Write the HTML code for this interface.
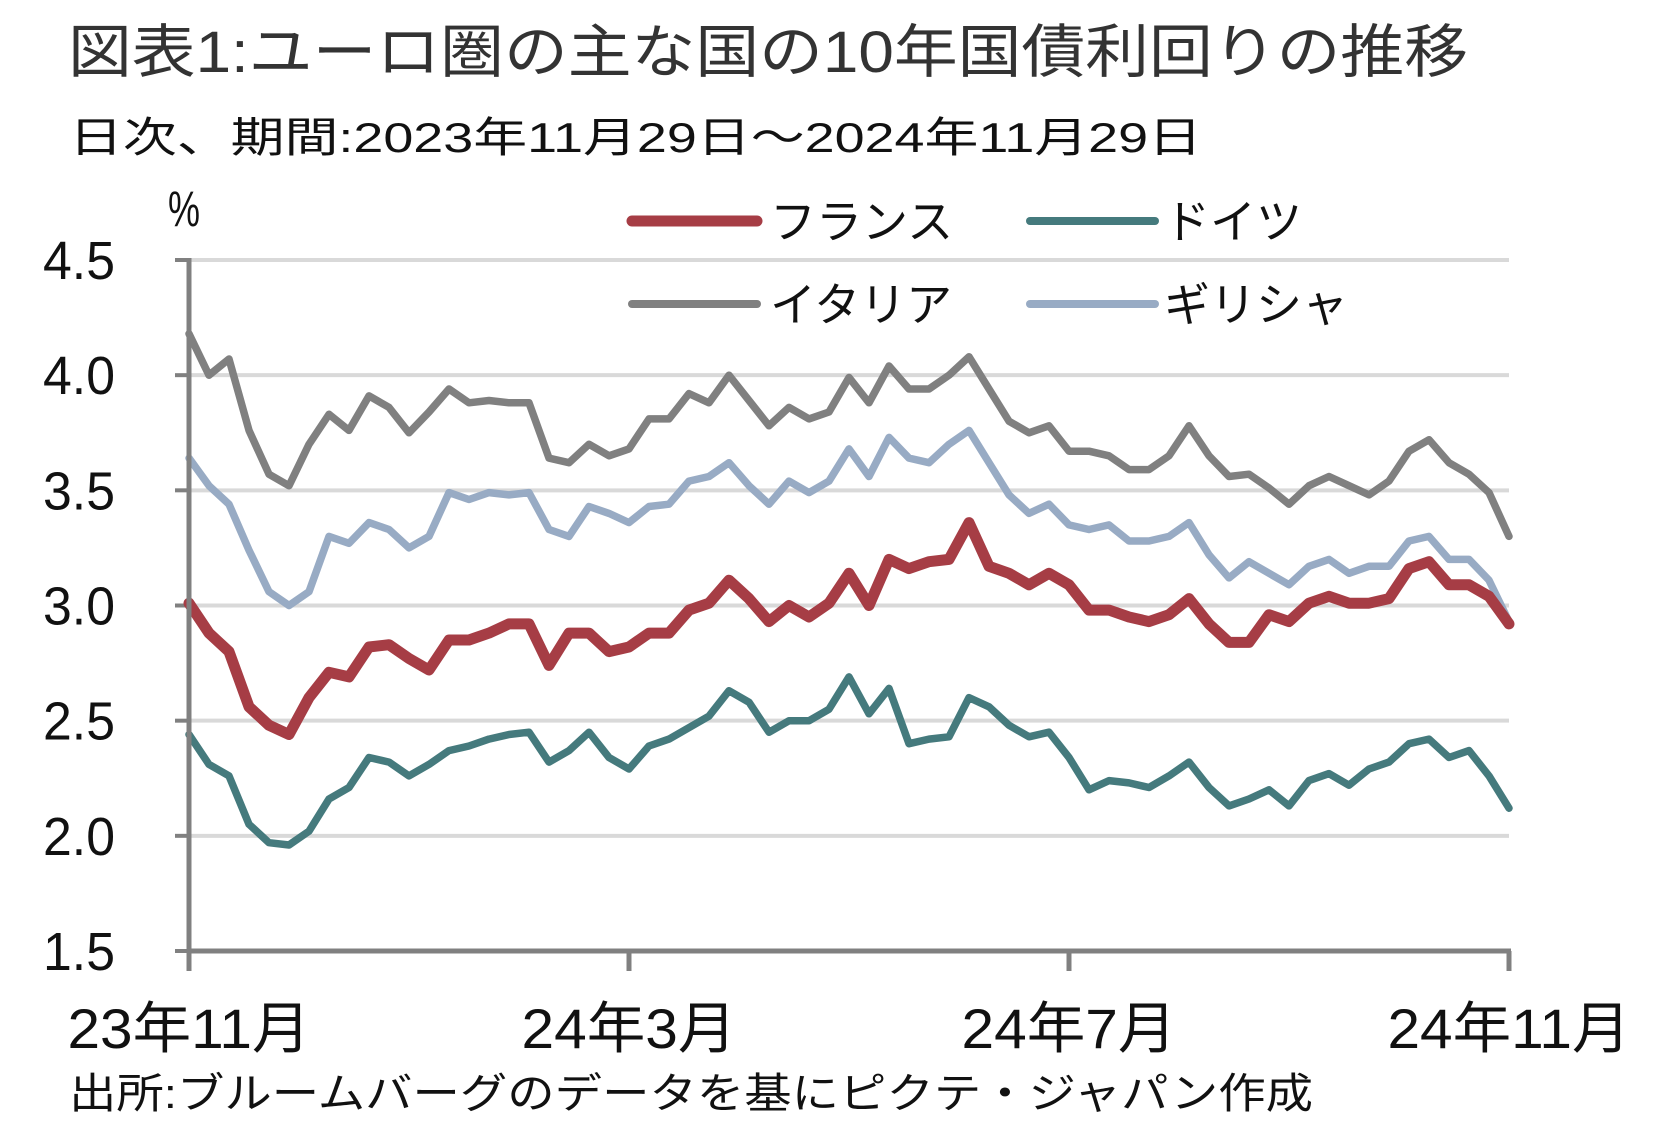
<!DOCTYPE html>
<html><head><meta charset="utf-8">
<style>
html,body{margin:0;padding:0;background:#fff;}
svg{display:block;font-family:"Liberation Sans","Noto Sans CJK JP",sans-serif;}
</style></head>
<body>
<svg id="chart" width="1671" height="1139" viewBox="0 0 1671 1139" xmlns="http://www.w3.org/2000/svg">
<text x="68" y="72" font-size="58" fill="#333" textLength="1400" lengthAdjust="spacingAndGlyphs">図表1:ユーロ圏の主な国の10年国債利回りの推移</text>
<text x="69" y="152" font-size="42" fill="#111" textLength="1133" lengthAdjust="spacingAndGlyphs">日次、期間:2023年11月29日～2024年11月29日</text>
<text x="168" y="226" font-size="50" fill="#111" textLength="32" lengthAdjust="spacingAndGlyphs">%</text>
<g id="grid"></g>
<g id="ylabels"></g>
<g id="series"></g>
<g id="axes"></g>
<g id="xlabels"></g>
<g>
  <g>
    <line x1="632" y1="221" x2="757" y2="221" stroke="#a63d45" stroke-width="11" stroke-linecap="round"/>
    <text x="770" y="238" font-size="46" fill="#111">フランス</text>
  </g>
  <g>
    <line x1="1030" y1="221" x2="1155" y2="221" stroke="#457a7d" stroke-width="8" stroke-linecap="round"/>
    <text x="1164" y="238" font-size="46" fill="#111">ドイツ</text>
  </g>
  <g>
    <line x1="632" y1="304" x2="757" y2="304" stroke="#808080" stroke-width="8" stroke-linecap="round"/>
    <text x="770" y="321" font-size="46" fill="#111">イタリア</text>
  </g>
  <g>
    <line x1="1030" y1="304" x2="1155" y2="304" stroke="#98abc4" stroke-width="8" stroke-linecap="round"/>
    <text x="1164" y="321" font-size="46" fill="#111">ギリシャ</text>
  </g>
</g>
<text x="69" y="1108" font-size="42" fill="#111" textLength="1244" lengthAdjust="spacingAndGlyphs">出所:ブルームバーグのデータを基にピクテ・ジャパン作成</text>
</svg>
<script>
const yTicks = [1.5, 2.0, 2.5, 3.0, 3.5, 4.0, 4.5];
const yTickLabels = ["1.5","2.0","2.5","3.0","3.5","4.0","4.5"];
const xTickPos = [0, 4/12, 8/12, 1];
const xTickLabels = ["23年11月","24年3月","24年7月","24年11月"];
const italy = [4.18,4.0,4.07,3.76,3.57,3.52,3.70,3.83,3.76,3.91,3.86,3.75,3.84,3.94,3.88,3.89,3.88,
 3.88,3.64,3.62,3.70,3.65,3.68,3.81,3.81,3.92,3.88,4.0,3.89,3.78,3.86,3.81,3.84,3.99,
 3.88,4.04,3.94,3.94,4.0,4.08,3.94,3.80,3.75,3.78,3.67,3.67,3.65,3.59,3.59,3.65,3.78,
 3.65,3.56,3.57,3.51,3.44,3.52,3.56,3.52,3.48,3.54,3.67,3.72,3.62,3.57,3.49,3.30];
const greece = [3.64,3.52,3.44,3.24,3.06,3.0,3.06,3.30,3.27,3.36,3.33,3.25,3.30,3.49,3.46,3.49,3.48,
 3.49,3.33,3.30,3.43,3.40,3.36,3.43,3.44,3.54,3.56,3.62,3.52,3.44,3.54,3.49,3.54,3.68,
 3.56,3.73,3.64,3.62,3.70,3.76,3.62,3.48,3.40,3.44,3.35,3.33,3.35,3.28,3.28,3.30,3.36,
 3.22,3.12,3.19,3.14,3.09,3.17,3.20,3.14,3.17,3.17,3.28,3.30,3.20,3.20,3.11,2.93];
const france = [3.01,2.88,2.80,2.56,2.48,2.44,2.60,2.71,2.69,2.82,2.83,2.77,2.72,2.85,2.85,2.88,2.92,
 2.92,2.74,2.88,2.88,2.80,2.82,2.88,2.88,2.98,3.01,3.11,3.03,2.93,3.0,2.95,3.01,3.14,
 3.0,3.20,3.16,3.19,3.20,3.36,3.17,3.14,3.09,3.14,3.09,2.98,2.98,2.95,2.93,2.96,3.03,
 2.92,2.84,2.84,2.96,2.93,3.01,3.04,3.01,3.01,3.03,3.16,3.19,3.09,3.09,3.04,2.92];
const germany = [2.44,2.31,2.26,2.05,1.97,1.96,2.02,2.16,2.21,2.34,2.32,2.26,2.31,2.37,2.39,2.42,2.44,
 2.45,2.32,2.37,2.45,2.34,2.29,2.39,2.42,2.47,2.52,2.63,2.58,2.45,2.50,2.50,2.55,2.69,
 2.53,2.64,2.40,2.42,2.43,2.60,2.56,2.48,2.43,2.45,2.34,2.20,2.24,2.23,2.21,2.26,2.32,
 2.21,2.13,2.16,2.20,2.13,2.24,2.27,2.22,2.29,2.32,2.40,2.42,2.34,2.37,2.26,2.12];

const NS = "http://www.w3.org/2000/svg";
const X0 = 189, X1 = 1509, Y0 = 951, Y1 = 260, VMIN = 1.5, VMAX = 4.5;
function xScale(t){ return X0 + t*(X1-X0); }
function yScale(v){ return Y0 - (v-VMIN)/(VMAX-VMIN)*(Y0-Y1); }
function mk(tag, attrs, parent){ const e=document.createElementNS(NS,tag); for(const k in attrs) e.setAttribute(k, attrs[k]); parent.appendChild(e); return e; }

const grid=document.getElementById('grid'), yl=document.getElementById('ylabels');
yTicks.forEach((v,i)=>{
  const y=yScale(v);
  if(i>0){
    const g=mk('line',{x1:X0,x2:X1,y1:y,y2:y,stroke:'#d9d9d9','stroke-width':4},grid);
    
    
  }
  const tk=mk('line',{x1:175,x2:X0,y1:y,y2:y,stroke:'#808080','stroke-width':4},grid);
  
  
  const t=mk('text',{x:115,y:y+19,'font-size':54,'text-anchor':'end',fill:'#111',textLength:72,lengthAdjust:'spacingAndGlyphs'},yl);
  
  
  t.textContent=yTickLabels[i];
});

const ser=document.getElementById('series');
function drawLine(vals,color,w,name){
  const n=vals.length;
  const pts=vals.map((v,i)=>xScale(i/(n-1)).toFixed(1)+','+yScale(v).toFixed(1)).join(' ');
  const p=mk('polyline',{points:pts,fill:'none',stroke:color,'stroke-width':w,'stroke-linejoin':'round','stroke-linecap':'round'},ser);
  
  
}
drawLine(italy,'#808080',7.5,'italy-line');
drawLine(greece,'#98abc4',7.5,'greece-line');
drawLine(germany,'#457a7d',7.5,'germany-line');
drawLine(france,'#a63d45',11,'france-line');

const ax=document.getElementById('axes');
const ya=mk('line',{x1:X0,x2:X0,y1:Y1-2,y2:Y0+18,stroke:'#808080','stroke-width':5},ax);


const xa=mk('line',{x1:X0,x2:X1+2,y1:Y0,y2:Y0,stroke:'#808080','stroke-width':5},ax);


const xl=document.getElementById('xlabels');
const xLabelW=[243,215,215,243];
xTickPos.forEach((t,i)=>{
  const x=xScale(t);
  const tk=mk('line',{x1:x,x2:x,y1:Y0,y2:Y0+20,stroke:'#808080','stroke-width':5},ax);
  
  
  const tx=mk('text',{x:x,y:1048,'font-size':56,'text-anchor':'middle',fill:'#111',textLength:xLabelW[i],lengthAdjust:'spacingAndGlyphs'},xl);
  
  
  tx.textContent=xTickLabels[i];
});
</script>
</body></html>
